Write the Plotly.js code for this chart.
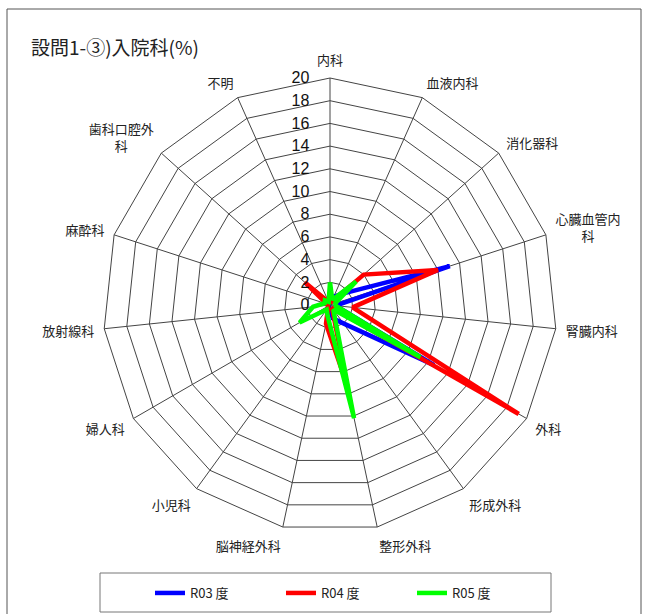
<!DOCTYPE html>
<html>
<head>
<meta charset="utf-8">
<script src="https://cdn.plot.ly/plotly-3.0.1.min.js"></script>
<style>
html,body{margin:0;padding:0;background:#fff;}
#chart{width:649px;height:614px;}
</style>
</head>
<body>
<div id="chart"></div>
<script>
var categories = ['内科','血液内科','消化器科','心臓血管内科','腎臓内科','外科','形成外科','整形外科','脳神経外科','小児科','婦人科','放射線科','麻酔科','歯科口腔外科','不明'];
var tickLabels = ['内科','血液内科','消化器科','心臓血管内<br>\u3000\u3000科','腎臓内科','外科','形成外科','整形外科','脳神経外科','小児科','婦人科','放射線科','麻酔科','歯科口腔外<br>科\u3000\u3000','不明'];
var seriesNames = ['R03 度','R04 度','R05 度'];
var r03 = [0.3, 0.8, 1.5, 11.1, 0.5, 10.6, 2.0, 1.2, 0.3, 0.2, 0.2, 0.2, 0.2, 0.3, 0.3];
var r04 = [0.3, 0.3, 4.0, 10.0, 2.0, 19.2, 0.3, 7.2, 1.7, 0.3, 0.2, 0.2, 0.3, 3.0, 0.3];
var r05 = [2.0, 0.5, 3.1, 0.5, 0.5, 9.2, 0.5, 10.2, 1.0, 0.5, 3.1, 1.5, 0.5, 0.6, 0.3];
var radialTicks = [0,2,4,6,8,10,12,14,16,18,20];
var radialTickText = ['0','2','4','6','8','10','12','14','16','18','20'];
var colors = ['#0000FF','#FF0000','#00FF00'];

function closed(a){ return a.concat([a[0]]); }
var allSeries = [r03, r04, r05];
var traces = allSeries.map(function(v,i){
  return {
    type:'scatterpolar', mode:'lines',
    r: closed(v), theta: closed(categories),
    name: seriesNames[i],
    line:{color:colors[i], width:4.5}
  };
});

// pad labels so they sit to the left of the spoke
var NB = '\u00a0';
var padded = radialTickText.map(function(t){ return t + NB+NB+NB+NB; });

var W=649, H=614;
function px(x){return x/W;} function py(y){return 1-y/H;}
var cx=330, cy=305, R=227;

var layout = {
  width:W, height:H,
  margin:{l:0,r:0,t:0,b:0},
  paper_bgcolor:'#fff',
  font:{family:'"Noto Sans CJK JP", "Noto Sans", sans-serif', color:'#222'},
  title:{text:'設問1-③)入院科(%)', x:px(31), xanchor:'left', xref:'paper', y:py(48), yanchor:'middle', yref:'paper',
         font:{size:19, color:'#222', family:'"Noto Sans CJK JP", sans-serif'}},
  polar:{
    domain:{x:[px(cx-R), px(cx+R)], y:[py(cy+R), py(cy-R)]},
    bgcolor:'#fff',
    gridshape:'linear',
    angularaxis:{
      rotation:90, direction:'clockwise',
      tickmode:'array', tickvals:categories, ticktext:tickLabels,
      tickfont:{size:13, color:'#222'},
      showline:true, linecolor:'#444', linewidth:1,
      gridcolor:'#444', gridwidth:1,
      ticks:'outside', ticklen:7, tickcolor:'rgba(0,0,0,0)'
    },
    radialaxis:{
      range:[0,20], tickmode:'array', tickvals:radialTicks, ticktext:padded,
      angle:90, side:'counterclockwise', tickangle:90,
      tickfont:{size:16, color:'#111', family:'"Liberation Sans", Arial, sans-serif'},
      showline:false, gridcolor:'#444', gridwidth:1, ticks:''
    }
  },
  showlegend:true,
  legend:{orientation:'h', x:px(150), xanchor:'left', y:py(593), yanchor:'middle',
          font:{size:13, color:'#222'}, entrywidth:86, entrywidthmode:'pixels', bgcolor:'rgba(0,0,0,0)'},
  shapes:[
    {type:'rect', xref:'paper', yref:'paper', x0:px(7), x1:px(641), y0:py(9), y1:py(640), line:{color:'#555', width:1}},
    {type:'rect', xref:'paper', yref:'paper', x0:px(100), x1:px(551), y0:py(573), y1:py(612), line:{color:'#777', width:1}}
  ]
};
Plotly.newPlot('chart', traces, layout, {displayModeBar:false});
</script>
</body>
</html>
